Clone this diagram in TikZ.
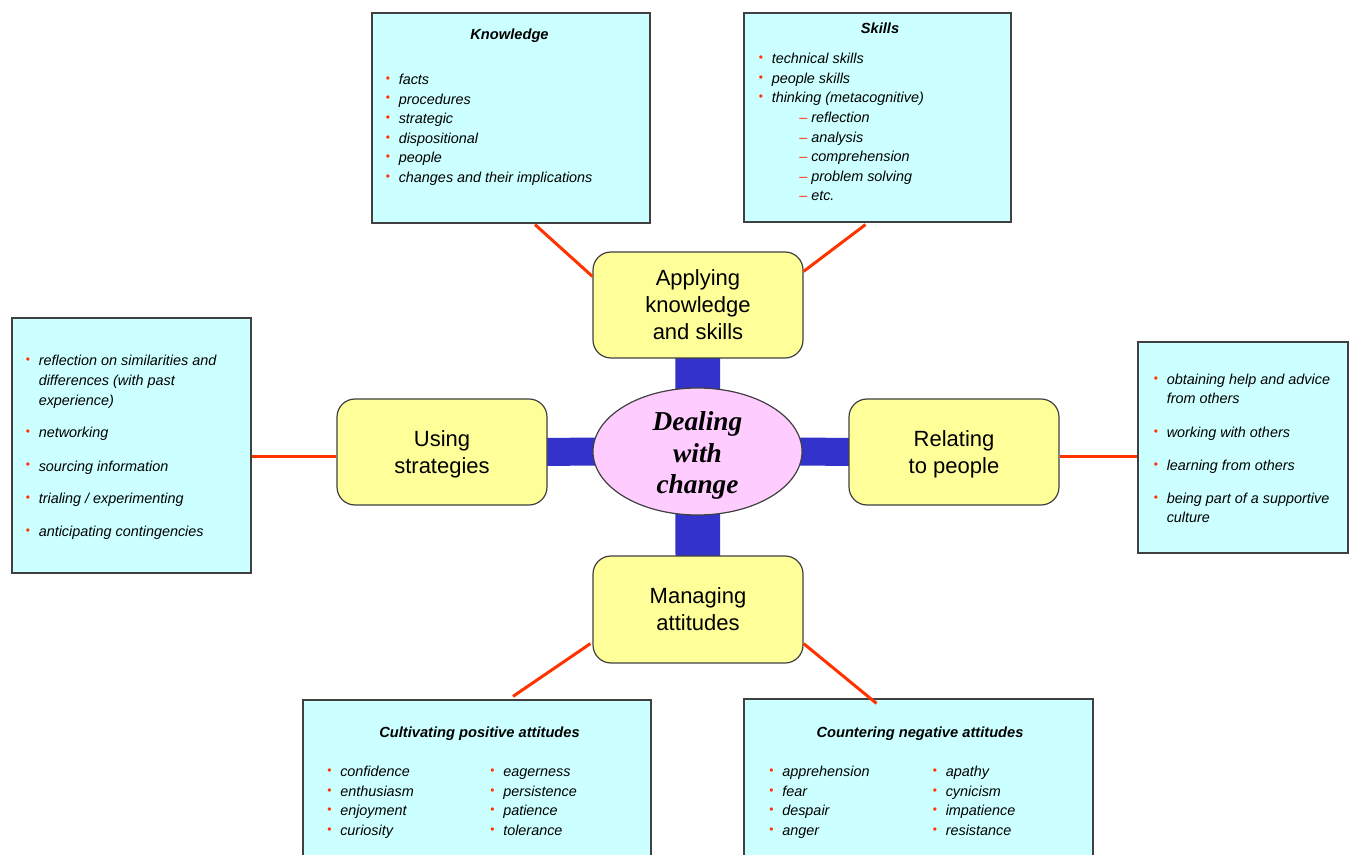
\documentclass[tikz,border=0pt]{standalone}
\usepackage{fontspec}
\setmainfont{Liberation Sans}
\newfontfamily\hubfont{Liberation Serif}
\usetikzlibrary{calc,fit,shapes.geometric,backgrounds}
\definecolor{cyanbox}{RGB}{204,255,255}
\definecolor{yellowbox}{RGB}{255,255,153}
\definecolor{pinkell}{RGB}{255,204,255}
\definecolor{bluebar}{RGB}{51,51,204}
\definecolor{redline}{RGB}{255,51,0}
\definecolor{edgegray}{RGB}{64,64,64}
\newcommand\bul{\makebox[9.75pt][l]{\textcolor{redline}{\raisebox{1.6pt}{\fontsize{9}{9}\selectfont\upshape •}}}}
\newcommand\dsh{\makebox[9pt][l]{\textcolor{redline}{\upshape –}}}
\newcommand\ind{\hspace*{9.75pt}}
\newcommand\lines[1]{\begin{tabular}{@{}c@{}}#1\end{tabular}}
\begin{document}
\begin{tikzpicture}[x=0.75pt,y=-0.75pt,
  cbox/.style={draw=edgegray, line width=0.9pt, fill=cyanbox, inner sep=0pt},
  ybox/.style={draw=edgegray, line width=0.9pt, fill=yellowbox, rounded corners=13.5pt, inner sep=0pt},
  ylab/.style={inner sep=0pt, font=\fontsize{16.5}{20.25}\selectfont},
  hubstyle/.style={ellipse, draw=edgegray, line width=0.9pt, fill=pinkell, inner sep=0pt},
  hublab/.style={inner sep=0pt, font=\hubfont\bfseries\itshape\fontsize{20.5}{23.6}\selectfont},
  item/.style={anchor=base west, inner sep=0pt, font=\fontsize{10.8}{13}\selectfont\itshape},
  ttl/.style={anchor=base, inner sep=0pt, font=\fontsize{11}{13}\selectfont\bfseries\itshape},
  redlink/.style={draw=redline, line width=2.25pt},
  vbar/.style={draw=bluebar, line width=33.5pt},
  hbar/.style={draw=bluebar, line width=21pt}]
\clip (0,0) rectangle (1349,855);
\begin{scope}[on background layer]
\fill[white] (0,0) rectangle (1349,855);
\end{scope}
% outer text boxes
\node[cbox, fit={(372,13)(650,223)}] (know) {};
\node[cbox, fit={(744,13)(1011,222)}] (skills) {};
\node[cbox, fit={(12,318)(251,573)}] (strat) {};
\node[cbox, fit={(1138,342)(1348,553)}] (people) {};
\node[cbox, fit={(303,700)(651,870)}] (pos) {};
\node[cbox, fit={(744,699)(1093,870)}] (neg) {};
% yellow boxes
\node[ybox, fit={(593,252)(803,358)}] (apply) {};
\node[ybox, fit={(337,399)(547,505)}] (using) {};
\node[ybox, fit={(849,399)(1059,505)}] (relate) {};
\node[ybox, fit={(593,556)(803,663)}] (manage) {};
\node[hubstyle, minimum width=156.75pt, minimum height=95.25pt] (hub) at (697.5,451.5) {};
\node[ylab] (applyT) at ($(apply.center)+(0,2.5)$) {\lines{Applying\\knowledge\\and skills}};
\node[ylab] (usingT) at ($(using.center)+(0,2.5)$) {\lines{Using\\strategies}};
\node[ylab] (relateT) at ($(relate.center)+(0,2.5)$) {\lines{Relating\\to people}};
\node[ylab] (manageT) at ($(manage.center)+(0,2.5)$) {\lines{Managing\\attitudes}};
\node[hublab] (hubT) at ($(hub.center)+(0,4.5)$) {\lines{Dealing\\with\\change}};
% blue bars
\begin{scope}[on background layer]
\draw[vbar] (apply.center) -- (hub.center);
\draw[vbar] (manage.center) -- (hub.center);
\draw[hbar] (using.center) -- (hub.center);
\draw[hbar] (relate.center) -- (hub.center);
\end{scope}
% red links
\draw[redlink] ($(know.south)+(24,1)$) -- ($(apply.north west)+(0,25)$);
\draw[redlink] ($(skills.south)+(-12,2)$) -- ($(apply.north east)+(0,20)$);
\draw[redlink] ($(strat.east)+(0,11)$) -- ($(using.west)+(0,4.5)$);
\draw[redlink] ($(relate.east)+(0,4.5)$) -- ($(people.west)+(0,9)$);
\draw[redlink] ($(manage.south west)+(-2,-20)$) -- ($(pos.north)+(36,-3)$);
\draw[redlink] ($(manage.south east)+(0,-20)$) -- ($(neg.north)+(-42,5)$);
% Knowledge
\node[ttl] (knowT) at (509.5,39.5) {Knowledge};
\foreach \t [count=\i] in {facts, procedures, strategic, dispositional, people, changes and their implications}
  \node[item] (know\i) at (385.5,{84.5+19.6*(\i-1)}) {\bul\t};
% Skills
\node[ttl] (skillsT) at (880,34) {Skills};
\foreach \t [count=\i] in {technical skills, people skills, thinking (metacognitive)}
  \node[item] (skl\i) at (758.5,{63.5+19.7*(\i-1)}) {\bul\t};
\foreach \t [count=\i] in {reflection, analysis, comprehension, problem solving, etc.}
  \node[item] (sks\i) at (799,{122.6+19.6*(\i-1)}) {\dsh\t};
% Strategies
\foreach \y/\t [count=\i] in {365.5/\bul reflection on similarities  and, 385.5/\ind differences  (with past, 405.5/\ind experience), 437.5/\bul networking, 471/\bul sourcing information, 503.5/{\bul trialing / experimenting}, 536.5/\bul anticipating contingencies}
  \node[item] (str\i) at (25.5,\y) {\t};
% People
\foreach \y/\t [count=\i] in {384.5/\bul obtaining help and advice, 403.5/\ind from others, 437.5/\bul working with others, 470.5/\bul learning from others, 503.5/\bul being part of a supportive, 522.5/\ind culture}
  \node[item] (ppl\i) at (1153.5,\y) {\t};
% Positive
\node[ttl] (posT) at (479.5,737.5) {Cultivating positive attitudes};
\foreach \t [count=\i] in {confidence, enthusiasm, enjoyment, curiosity}
  \node[item] (posa\i) at (327,{776.5+19.7*(\i-1)}) {\bul\t};
\foreach \t [count=\i] in {eagerness, persistence, patience, tolerance}
  \node[item] (posb\i) at (490,{776.5+19.7*(\i-1)}) {\bul\t};
% Negative
\node[ttl] (negT) at (920,737.5) {Countering negative attitudes};
\foreach \t [count=\i] in {apprehension, fear, despair, anger}
  \node[item] (nega\i) at (769,{776.5+19.7*(\i-1)}) {\bul\t};
\foreach \t [count=\i] in {apathy, cynicism, impatience, resistance}
  \node[item] (negb\i) at (932.5,{776.5+19.7*(\i-1)}) {\bul\t};
\end{tikzpicture}
\end{document}
